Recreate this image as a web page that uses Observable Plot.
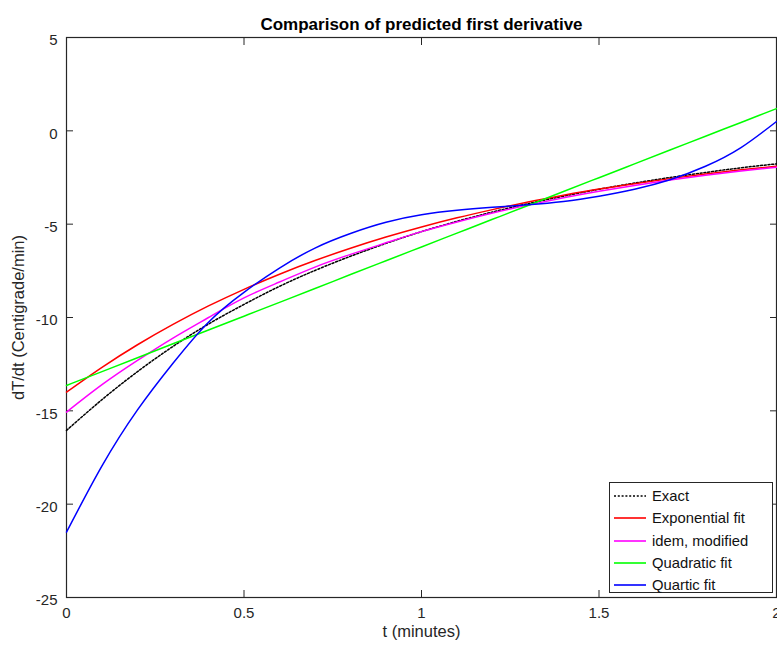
<!DOCTYPE html>
<html><head><meta charset="utf-8">
<script src="https://cdn.jsdelivr.net/npm/d3@7"></script>
<script src="https://cdn.jsdelivr.net/npm/@observablehq/plot@0.6"></script>
<style>
body{margin:0;background:#fff;font-family:"Liberation Sans",Arial,sans-serif;}
#wrap{position:relative;width:777px;height:646px;}
#legend{position:absolute;left:609px;top:482px;width:164px;height:111px;border:1px solid #262626;background:#fff;box-sizing:border-box;}
.row{position:absolute;left:0;height:20px;display:flex;align-items:center;font-size:14.8px;color:#111;white-space:nowrap;}
.row svg{margin-left:4px;margin-right:6px;}
</style></head><body><div id="wrap"><div id="legend"></div></div>
<script>
const t = [0,0.1,0.2,0.3,0.4,0.5,0.6,0.7,0.8,0.9,1.0,1.1,1.2,1.3,1.4,1.5,1.6,1.7,1.8,1.9,2.0];
const exact = [-16.05,-14.4,-12.9,-11.55,-10.35,-9.3,-8.33,-7.48,-6.72,-6.03,-5.4,-4.85,-4.35,-3.9,-3.5,-3.13,-2.8,-2.5,-2.23,-1.98,-1.77];
const expFit = [-14.0,-12.67,-11.46,-10.37,-9.38,-8.49,-7.68,-6.95,-6.29,-5.69,-5.15,-4.66,-4.22,-3.81,-3.45,-3.12,-2.83,-2.56,-2.31,-2.09,-1.9];
const idemMod = [-15.07,-13.6,-12.3,-11.1,-10.0,-8.95,-8.1,-7.3,-6.62,-6.0,-5.4,-4.88,-4.4,-3.98,-3.59,-3.24,-2.93,-2.64,-2.38,-2.15,-1.95];
const quadFit = [-13.64,-12.9,-12.16,-11.41,-10.67,-9.93,-9.19,-8.45,-7.7,-6.96,-6.22,-5.48,-4.74,-4.0,-3.25,-2.51,-1.77,-1.03,-0.29,0.45,1.19];
const quartFit = [-21.5,-17.95,-14.95,-12.45,-10.25,-8.65,-7.35,-6.28,-5.5,-4.9,-4.5,-4.26,-4.1,-3.96,-3.78,-3.5,-3.13,-2.62,-1.9,-0.9,0.5];

const seriesNames = ["Exact","Exponential fit","idem, modified","Quadratic fit","Quartic fit"];
const seriesColors = ["#000000","#ff0000","#ff00ff","#00ff00","#0000ff"];
const seriesValues = [exact, expFit, idemMod, quadFit, quartFit];
const xTicks = [0,0.5,1,1.5,2];
const yTicks = [-25,-20,-15,-10,-5,0,5];

const data = [];
seriesNames.forEach((name,i)=>t.forEach((x,j)=>data.push({series:name,t:x,v:seriesValues[i][j]})));

const ink = "#262626";
const marks = [
  Plot.axisX({ticks:xTicks, tickSize:0, tickPadding:10, fontSize:15, label:null, tickFormat:d=>String(d)}),
  Plot.axisX({ticks:xTicks, tickSize:-7, label:null, tickFormat:()=>"", stroke:ink}),
  Plot.axisX({anchor:"top", ticks:xTicks, tickSize:-7, label:null, tickFormat:()=>"", stroke:ink}),
  Plot.axisY({ticks:yTicks, tickSize:0, tickPadding:9, fontSize:15, label:null, dy:3, tickFormat:d=>String(d)}),
  Plot.axisY({ticks:yTicks, tickSize:-7, label:null, tickFormat:()=>"", stroke:ink}),
  Plot.axisY({anchor:"right", ticks:yTicks, tickSize:-7, label:null, tickFormat:()=>"", stroke:ink}),
  Plot.frame({stroke:ink, strokeWidth:1.2})
];
seriesNames.forEach((name,i)=>{
  marks.push(Plot.line(data.filter(d=>d.series===name), {
    x:"t", y:"v", curve:"natural", stroke:seriesColors[i], strokeWidth:1.5,
    strokeDasharray: i===0 ? "2,1.8" : null
  }));
});
marks.push(
  Plot.text(["Comparison of predicted first derivative"], {text:d=>d, frameAnchor:"top", dy:-20, fontWeight:"bold", fontSize:17, fill:"#000"}),
  Plot.text(["t (minutes)"], {text:d=>d, frameAnchor:"bottom", dy:39, fontSize:16.5, fill:ink}),
  Plot.text(["dT/dt (Centigrade/min)"], {text:d=>d, frameAnchor:"left", textAnchor:"middle", dx:-48, rotate:-90, fontSize:16.5, fill:ink})
);

const chart = Plot.plot({
  width:777, height:646,
  marginLeft:66, marginRight:1, marginTop:37, marginBottom:49,
  x:{domain:[0,2]},
  y:{domain:[-25,5]},
  style:{fontFamily:"'Liberation Sans', Arial, sans-serif", color:ink, background:"#fff", overflow:"visible"},
  marks
});
const wrap = document.getElementById("wrap");
wrap.insertBefore(chart, wrap.firstChild);

const legend = document.getElementById("legend");
seriesNames.forEach((name,i)=>{
  const row = document.createElement("div");
  row.className = "row";
  row.style.top = (3 + i*22.3) + "px";
  const dash = i===0 ? 'stroke-dasharray="2,1.8"' : '';
  row.innerHTML = `<svg width="32" height="6"><line x1="0" y1="3" x2="32" y2="3" stroke="${seriesColors[i]}" stroke-width="1.6" ${dash}/></svg><span>${name}</span>`;
  legend.appendChild(row);
});
</script>
</body></html>
